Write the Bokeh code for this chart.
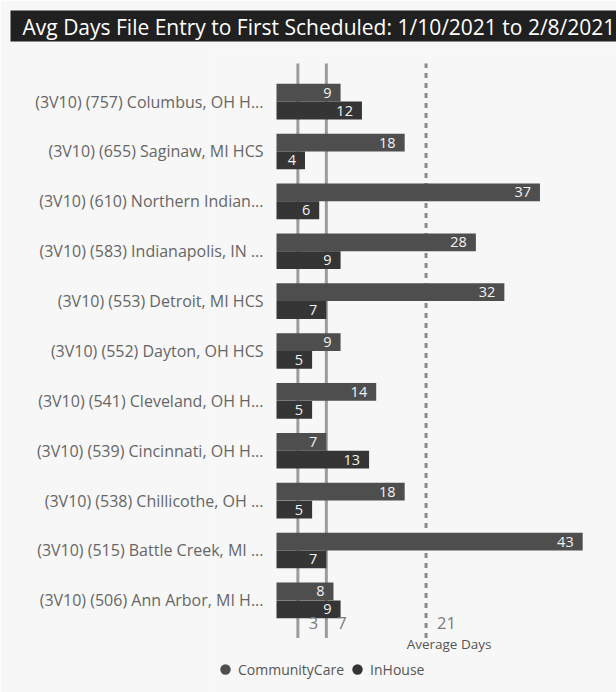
import numpy as np
from bokeh.plotting import figure
from bokeh.models import (Range1d, FixedTicker, Label, LabelSet, ColumnDataSource,
                          Legend, LegendItem)
from bokeh.core.properties import value
from bokeh.embed import file_html
from bokeh.resources import INLINE

title_text = "Avg Days File Entry to First Scheduled: 1/10/2021 to 2/8/2021"

categories = [
    "(3V10) (757) Columbus, OH H...",
    "(3V10) (655) Saginaw, MI HCS",
    "(3V10) (610) Northern Indian...",
    "(3V10) (583) Indianapolis, IN ...",
    "(3V10) (553) Detroit, MI HCS",
    "(3V10) (552) Dayton, OH HCS",
    "(3V10) (541) Cleveland, OH H...",
    "(3V10) (539) Cincinnati, OH H...",
    "(3V10) (538) Chillicothe, OH ...",
    "(3V10) (515) Battle Creek, MI ...",
    "(3V10) (506) Ann Arbor, MI H...",
]
community_care = [9, 18, 37, 28, 32, 9, 14, 7, 18, 43, 8]
in_house = [12, 4, 6, 9, 7, 5, 5, 13, 5, 7, 9]
series_names = ["CommunityCare", "InHouse"]
ref_lines = [3, 7]
average_days = 21
average_label = "Average Days"

FONT = "Open Sans"
CC_COLOR = "#4e4e4e"
IH_COLOR = "#353535"
PANEL = "#f7f7f7"

n = len(categories)
pos = np.arange(n - 1, -1, -1).astype(float)
half = 0.179
bar_h = 0.357
# vertical extent of the plotting band (category axis span) for the reference lines
band_lo, band_hi = -0.755, 10.765

p = figure(width=616, height=692, x_range=Range1d(-9.13, 47.75), y_range=Range1d(-1.847, 10.964),
           toolbar_location=None, output_backend="svg", x_axis_location=None,
           min_border_left=211, min_border_right=0, min_border_top=47, min_border_bottom=0,
           background_fill_color=PANEL, border_fill_color=PANEL, outline_line_color=None)
p.grid.visible = False

# title bar
p.title.text = title_text
p.title.align = "left"
p.title.vertical_align = "top"
p.title.offset = -201
p.title.standoff = 20
p.title.text_color = "white"
p.title.text_font = FONT
p.title.text_font_size = "21px"
p.title.text_font_style = "normal"
p.title.background_fill_color = "#202020"
p.title.padding = dict(left=12, right=60, top=2, bottom=1)

# reference lines (drawn first so the bars cover them)
p.segment(x0=ref_lines, x1=ref_lines, y0=[band_lo] * len(ref_lines), y1=[band_hi] * len(ref_lines),
          line_color="#9c9c9c", line_width=3, line_cap="butt")
p.segment(x0=[average_days], x1=[average_days], y0=[band_lo], y1=[band_hi],
          line_color="#8a8a8a", line_width=3, line_dash="5 5", line_cap="butt")

src = ColumnDataSource(dict(
    y_cc=pos + half, y_ih=pos - half,
    cc=community_care, ih=in_house,
    cc_txt=[str(v) for v in community_care], ih_txt=[str(v) for v in in_house],
))
p.hbar(y="y_cc", right="cc", left=0, height=bar_h, source=src,
       fill_color=CC_COLOR, line_color=None)
p.hbar(y="y_ih", right="ih", left=0, height=bar_h, source=src,
       fill_color=IH_COLOR, line_color=None)

for xcol, ycol, tcol in (("cc", "y_cc", "cc_txt"), ("ih", "y_ih", "ih_txt")):
    p.add_layout(LabelSet(x=xcol, y=ycol, text=tcol, source=src, x_offset=-9,
                          text_align="right", text_baseline="middle", text_color="#f2f2f2",
                          text_font=value(FONT), text_font_size="14.5px"))

# reference-line value labels
for loc in ref_lines + [average_days]:
    p.add_layout(Label(x=loc, y=70, y_units="screen", x_offset=11, text=str(loc),
                       text_align="left", text_baseline="middle", text_color="#7a7a7a",
                       text_font=FONT, text_font_size="16.5px"))

# caption of the average line
p.add_layout(Label(x=average_days, y=49, y_units="screen", x_offset=23, text=average_label,
                   text_align="center", text_baseline="middle", text_color="#555555",
                   text_font=FONT, text_font_size="13.5px"))

# y axis
ya = p.yaxis[0]
ya.ticker = FixedTicker(ticks=list(pos))
ya.major_label_overrides = {float(pv): c for pv, c in zip(pos, categories)}
ya.axis_line_color = None
ya.major_tick_line_color = None
ya.minor_tick_line_color = None
ya.major_tick_out = 0
ya.major_tick_in = 0
ya.major_label_standoff = -52
ya.major_label_text_font = FONT
ya.major_label_text_font_size = "16px"
ya.major_label_text_color = "#666666"

# legend with dot glyphs
nan = [np.nan]
r_cc = p.scatter(x=nan, y=nan, marker="circle", size=10, fill_color=CC_COLOR, line_color=None)
r_ih = p.scatter(x=nan, y=nan, marker="circle", size=10, fill_color=IH_COLOR, line_color=None)
legend = Legend(items=[LegendItem(label=series_names[0], renderers=[r_cc]),
                       LegendItem(label=series_names[1], renderers=[r_ih])],
                orientation="horizontal", location=(1, 10),
                glyph_width=26, glyph_height=26, label_standoff=-6, spacing=0,
                padding=0, margin=0, border_line_color=None, background_fill_alpha=0,
                label_text_font=FONT, label_text_font_size="14px", label_text_color="#555555")
p.add_layout(legend, "center")

open("out.html", "w").write(file_html(p, INLINE))
